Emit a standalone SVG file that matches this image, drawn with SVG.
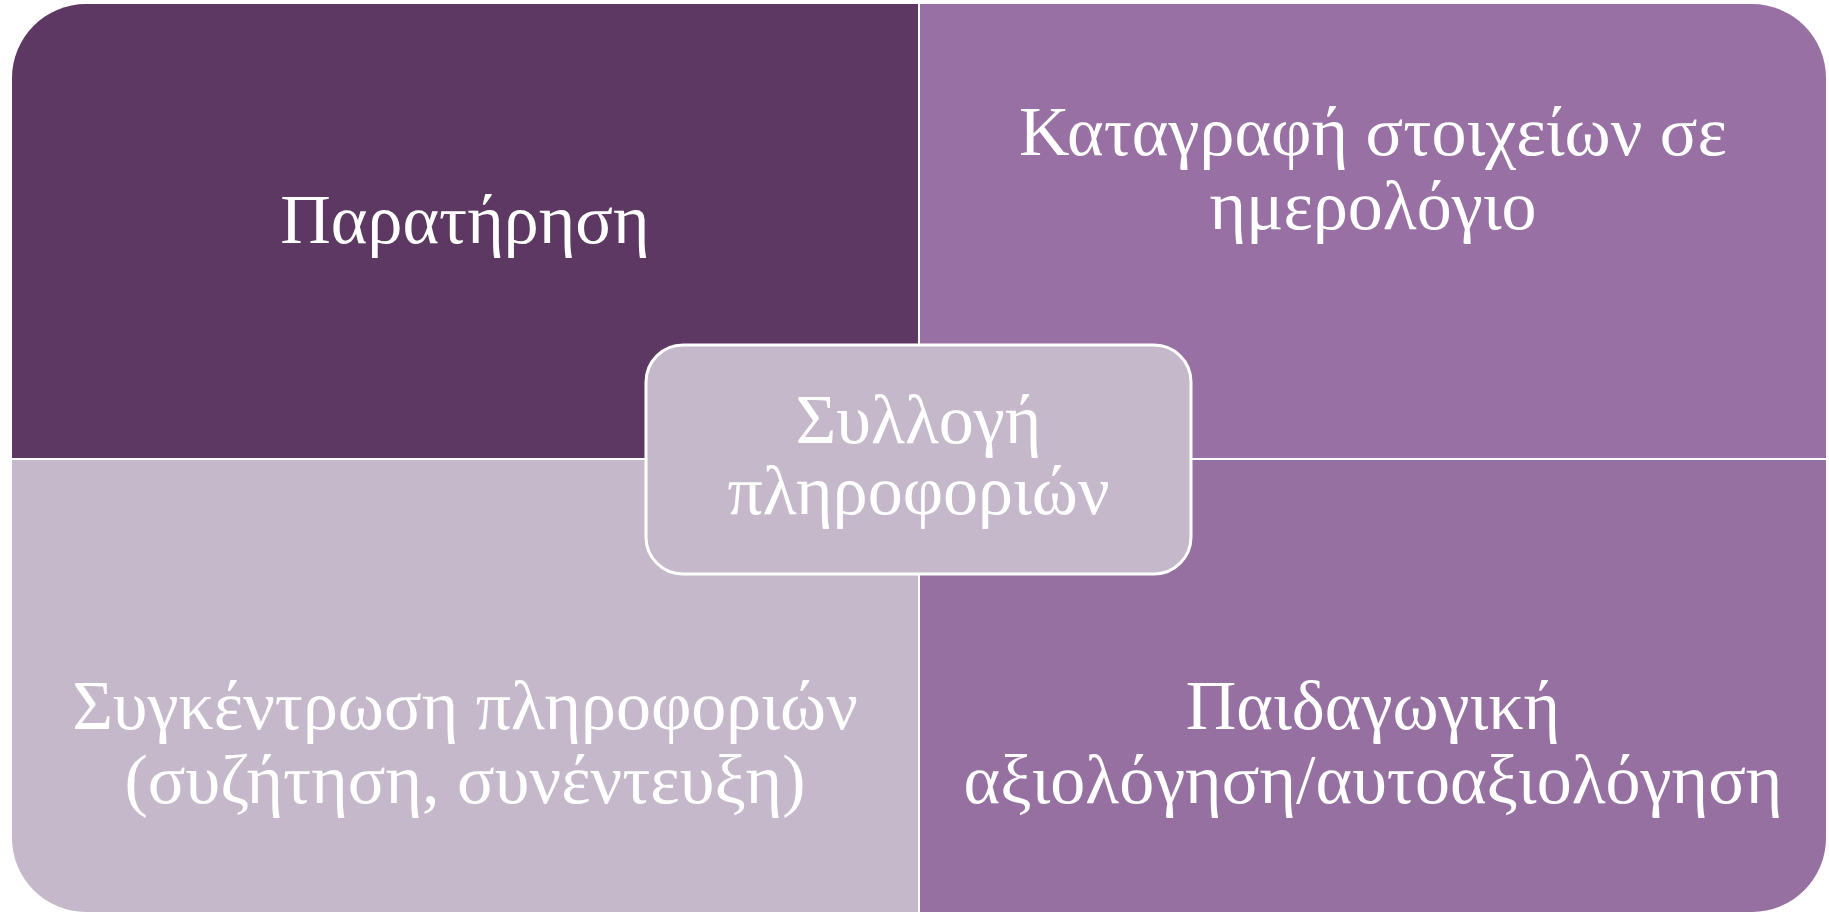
<svg xmlns="http://www.w3.org/2000/svg" width="1829" height="912" viewBox="0 0 1829 912">
  <style>
    .t { font-family: "Liberation Serif", "DejaVu Serif", serif; font-size: 70px; fill: #ffffff; text-anchor: middle; }
    .div { stroke: #ffffff; stroke-width: 2; }
  </style>
  <defs>
    <clipPath id="frame">
      <rect x="12" y="4" width="1814" height="908" rx="74" ry="74"/>
    </clipPath>
  </defs>
  <rect width="1829" height="912" fill="#ffffff"/>
  <g clip-path="url(#frame)">
    <g id="q-observation">
      <rect x="12" y="4" width="907" height="455" fill="#5D3862"/>
      <text class="t" x="465" y="243">Παρατήρηση</text>
    </g>
    <g id="q-diary">
      <rect x="919" y="4" width="907" height="455" fill="#9870A3"/>
      <text class="t" x="1373" y="155">Καταγραφή στοιχείων σε</text>
      <text class="t" x="1373" y="229">ημερολόγιο</text>
    </g>
    <g id="q-gathering">
      <rect x="12" y="459" width="907" height="453" fill="#C5B8CA"/>
      <text class="t" x="465" y="729">Συγκέντρωση πληροφοριών</text>
      <text class="t" x="465" y="803">(συζήτηση, συνέντευξη)</text>
    </g>
    <g id="q-assessment">
      <rect x="919" y="459" width="907" height="453" fill="#9770A2"/>
      <text class="t" x="1373" y="729">Παιδαγωγική</text>
      <text class="t" x="1373" y="803">αξιολόγηση/αυτοαξιολόγηση</text>
    </g>
    <g id="connectors">
      <line class="div" x1="919" y1="0" x2="919" y2="912"/>
      <line class="div" x1="0" y1="459" x2="1829" y2="459"/>
    </g>
  </g>
  <g id="center">
    <rect x="646" y="345" width="545" height="229" rx="37" ry="37" fill="#C5B8CA" stroke="#ffffff" stroke-width="3"/>
    <text class="t" x="918.5" y="443">Συλλογή</text>
    <text class="t" x="918.5" y="514">πληροφοριών</text>
  </g>
</svg>
